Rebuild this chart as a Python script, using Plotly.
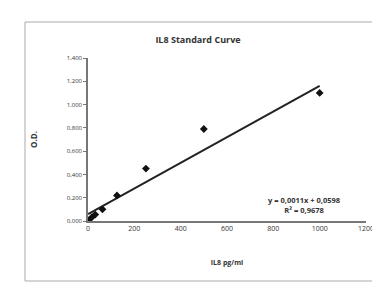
import plotly.graph_objects as go

# Data
concentration = [0, 15.6, 31.25, 62.5, 125, 250, 500, 1000]
od_values = [0.005, 0.03, 0.055, 0.10, 0.22, 0.45, 0.79, 1.10]
slope = 0.0011
intercept = 0.0598
x_ticks = [0, 200, 400, 600, 800, 1000, 1200]
y_ticks = [0, 0.2, 0.4, 0.6, 0.8, 1.0, 1.2, 1.4]
y_tick_labels = ["0,000", "0,200", "0,400", "0,600", "0,800", "1,000", "1,200", "1,400"]
title_text = "IL8 Standard Curve"
x_title = "IL8 pg/ml"
y_title = "O.D."
equation_text = "y = 0,0011x + 0,0598<br>R² = 0,9678"

line_x = [min(concentration), max(concentration)]
line_y = [slope * v + intercept for v in line_x]

font_family = "Open Sans, Liberation Sans, sans-serif"
txt_color = "#333333"

fig = go.Figure()
fig.add_trace(go.Scatter(
    x=line_x, y=line_y, mode="lines",
    line=dict(color="#222222", width=2), hoverinfo="skip", showlegend=False))
fig.add_trace(go.Scatter(
    x=concentration, y=od_values, mode="markers",
    marker=dict(symbol="diamond", size=6, color="#111111"),
    showlegend=False))

fig.update_layout(
    width=380, height=285,
    margin=dict(l=80, r=22, t=50, b=72),
    paper_bgcolor="white", plot_bgcolor="white",
    font=dict(family=font_family, color=txt_color, size=7),
    title=dict(text="<b>" + title_text + "</b>", x=0.5, xanchor="center",
               y=1 - 32 / 285, yanchor="middle",
               font=dict(size=9, color=txt_color, family=font_family)),
    xaxis=dict(range=[0, 1200], tickvals=x_ticks, showgrid=False, zeroline=False,
               showline=True, linecolor="#777777", linewidth=1.5,
               ticks="", tickfont=dict(size=7, color=txt_color),
               title=dict(text="<b>" + x_title + "</b>", font=dict(size=7, color=txt_color),
                          standoff=28)),
    yaxis=dict(range=[0, 1.4], tickvals=y_ticks, ticktext=y_tick_labels,
               showgrid=False, zeroline=False,
               showline=True, linecolor="#777777", linewidth=1.5,
               ticks="outside", ticklen=3, tickcolor="#777777",
               tickfont=dict(size=6, color=txt_color),
               title=dict(text="<b>" + y_title + "</b>", font=dict(size=8, color=txt_color),
                          standoff=28)),
)

fig.add_annotation(
    x=935, y=0.14, xref="x", yref="y", text="<b>" + equation_text + "</b>",
    showarrow=False, font=dict(size=7.5, color=txt_color), align="center")

fig.add_shape(type="rect", xref="paper", yref="paper",
              x0=-63 / 278, x1=1.08, y0=-60 / 163, y1=1 + 36 / 163,
              line=dict(color="#aaaaaa", width=1))

fig.write_html("out.html")
